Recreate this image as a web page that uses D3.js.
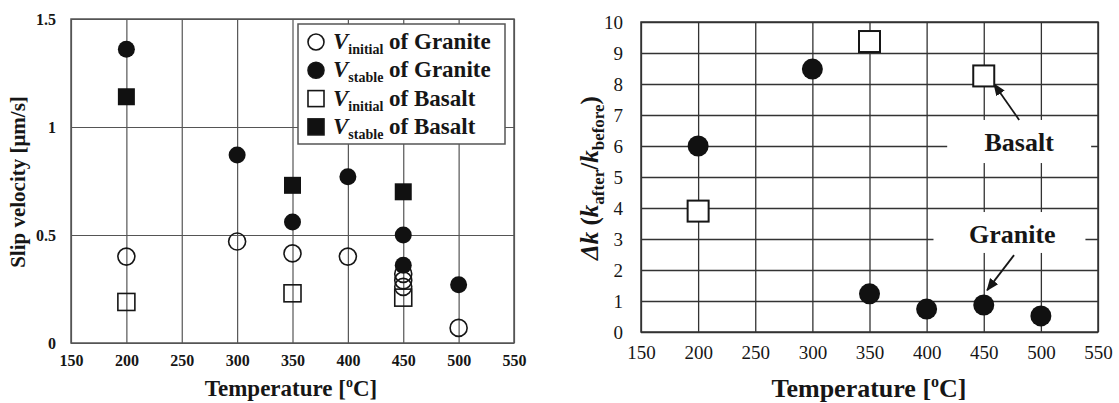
<!DOCTYPE html>
<html>
<head>
<meta charset="utf-8">
<script src="https://cdnjs.cloudflare.com/ajax/libs/d3/7.8.5/d3.min.js"></script>
<style>
  body { margin: 0; background: #fff; }
  svg text { font-family: "Liberation Serif", "Times New Roman", serif; }
</style>
</head>
<body>
<div id="chart"></div>
<script>
// ---- data ----
// left panel: slip velocity [um/s]
var initGraniteT = [200, 300, 350, 400, 450, 450, 450, 500];
var initGraniteV = [0.40, 0.47, 0.415, 0.40, 0.32, 0.29, 0.26, 0.07];
var stabGraniteT = [200, 300, 350, 400, 450, 450, 500];
var stabGraniteV = [1.36, 0.87, 0.56, 0.77, 0.50, 0.36, 0.27];
var initBasaltT = [200, 350, 450];
var initBasaltV = [0.19, 0.23, 0.21];
var stabBasaltT = [200, 350, 450];
var stabBasaltV = [1.14, 0.73, 0.70];

// right panel: permeability change
var dkGraniteT = [200, 300, 350, 400, 450, 500];
var dkGranite = [6.0, 8.48, 1.23, 0.74, 0.87, 0.52];
var dkBasaltT = [200, 350, 450];
var dkBasalt = [3.9, 9.37, 8.26];

var xTicks = [150, 200, 250, 300, 350, 400, 450, 500, 550];
var leftYTicks = [0, 0.5, 1, 1.5];
var rightYTicks = [0, 1, 2, 3, 4, 5, 6, 7, 8, 9, 10];

function pairs(xs, ys) { return xs.map(function(d, i) { return {t: d, v: ys[i]}; }); }

var svg = d3.select("#chart").append("svg")
    .attr("width", 1119).attr("height", 403)
    .style("font-family", "'Liberation Serif', serif");

var gridColor = "#555";
var ink = "#161616";
var serif = "'Liberation Serif', serif";

// ================= LEFT PANEL =================
var L = {left: 71, top: 19, width: 443, height: 324};
var gL = svg.append("g").attr("transform", "translate(" + L.left + "," + L.top + ")");

var xL = d3.scaleLinear().domain([150, 550]).range([0, L.width]);
var yL = d3.scaleLinear().domain([0, 1.5]).range([L.height, 0]);

// grid via axes
gL.append("g")
    .attr("transform", "translate(0," + L.height + ")")
    .call(d3.axisBottom(xL).tickValues(xTicks).tickSizeInner(-L.height).tickSizeOuter(0).tickPadding(12))
    .call(function(g) {
        g.attr("font-family", serif);
        g.select(".domain").remove();
        g.selectAll("line").attr("stroke", gridColor).attr("stroke-width", 1.2);
        g.selectAll("text").attr("font-size", 16).attr("font-weight", "bold").attr("fill", ink);
    });
gL.append("g")
    .call(d3.axisLeft(yL).tickValues(leftYTicks).tickFormat(function(d) { return d; })
        .tickSizeInner(-L.width).tickSizeOuter(0).tickPadding(15))
    .call(function(g) {
        g.attr("font-family", serif);
        g.select(".domain").remove();
        g.selectAll("line").attr("stroke", gridColor).attr("stroke-width", 1.2);
        g.selectAll("text").attr("font-size", 16).attr("font-weight", "bold").attr("fill", ink);
    });
gL.append("rect").attr("width", L.width).attr("height", L.height)
    .attr("fill", "none").attr("stroke", gridColor).attr("stroke-width", 1.5);

// markers
var rL = 8.5, sL = 17;
gL.selectAll(".ig").data(pairs(initGraniteT, initGraniteV)).enter().append("circle")
    .attr("cx", function(d) { return xL(d.t); }).attr("cy", function(d) { return yL(d.v); })
    .attr("r", rL).attr("fill", "none").attr("stroke", ink).attr("stroke-width", 1.6);
gL.selectAll(".ib").data(pairs(initBasaltT, initBasaltV)).enter().append("rect")
    .attr("x", function(d) { return xL(d.t) - sL / 2; }).attr("y", function(d) { return yL(d.v) - sL / 2; })
    .attr("width", sL).attr("height", sL).attr("fill", "none").attr("stroke", ink).attr("stroke-width", 1.6);
gL.selectAll(".sg").data(pairs(stabGraniteT, stabGraniteV)).enter().append("circle")
    .attr("cx", function(d) { return xL(d.t); }).attr("cy", function(d) { return yL(d.v); })
    .attr("r", rL).attr("fill", "#111");
gL.selectAll(".sb").data(pairs(stabBasaltT, stabBasaltV)).enter().append("rect")
    .attr("x", function(d) { return xL(d.t) - sL / 2; }).attr("y", function(d) { return yL(d.v) - sL / 2; })
    .attr("width", sL).attr("height", sL).attr("fill", "#111");

// legend
var legend = [
    {sub: "initial", rock: "Granite", shape: "circle", fill: false},
    {sub: "stable", rock: "Granite", shape: "circle", fill: true},
    {sub: "initial", rock: "Basalt", shape: "square", fill: false},
    {sub: "stable", rock: "Basalt", shape: "square", fill: true}
];
var lg = svg.append("g").attr("transform", "translate(298,24)");
lg.append("rect").attr("width", 207).attr("height", 120)
    .attr("fill", "#fff").attr("stroke", gridColor).attr("stroke-width", 1.5);
legend.forEach(function(d, i) {
    var cy = 18 + i * 28.3;
    if (d.shape === "circle") {
        lg.append("circle").attr("cx", 18).attr("cy", cy).attr("r", 8)
            .attr("fill", d.fill ? "#111" : "#fff").attr("stroke", ink).attr("stroke-width", 1.6);
    } else {
        lg.append("rect").attr("x", 10).attr("y", cy - 8).attr("width", 16).attr("height", 16)
            .attr("fill", d.fill ? "#111" : "#fff").attr("stroke", ink).attr("stroke-width", 1.6);
    }
    var t = lg.append("text").attr("x", 35).attr("y", cy + 7)
        .attr("font-size", 23).attr("font-weight", "bold").attr("fill", ink);
    t.append("tspan").attr("font-style", "italic").text("V");
    t.append("tspan").attr("font-size", 14).attr("dy", 5).text(d.sub);
    t.append("tspan").attr("dy", -5).text(" of " + d.rock);
});

// axis titles
svg.append("text").attr("transform", "translate(25," + (L.top + L.height / 2 + 1) + ") rotate(-90)")
    .attr("text-anchor", "middle").attr("font-size", 21).attr("font-weight", "bold").attr("fill", ink)
    .text("Slip velocity [μm/s]");
var xtL = svg.append("text").attr("x", 291).attr("y", 396)
    .attr("text-anchor", "middle").attr("font-size", 23).attr("font-weight", "bold").attr("fill", ink);
xtL.append("tspan").text("Temperature [");
xtL.append("tspan").attr("font-size", 14).attr("dy", -9).text("o");
xtL.append("tspan").attr("dy", 9).text("C]");

// ================= RIGHT PANEL =================
var R = {left: 641, top: 22, width: 457, height: 310};
var gR = svg.append("g").attr("transform", "translate(" + R.left + "," + R.top + ")");

var xR = d3.scaleLinear().domain([150, 550]).range([0, R.width]);
var yR = d3.scaleLinear().domain([0, 10]).range([R.height, 0]);

gR.append("g")
    .attr("transform", "translate(0," + R.height + ")")
    .call(d3.axisBottom(xR).tickValues(xTicks).tickSizeInner(-R.height).tickSizeOuter(0).tickPadding(14))
    .call(function(g) {
        g.attr("font-family", serif);
        g.select(".domain").remove();
        g.selectAll("line").attr("stroke", "#333").attr("stroke-width", 1.3);
        g.selectAll("text").attr("font-size", 19).attr("fill", ink);
    });
gR.append("g")
    .call(d3.axisLeft(yR).tickValues(rightYTicks).tickSizeInner(-R.width).tickSizeOuter(0).tickPadding(18))
    .call(function(g) {
        g.attr("font-family", serif);
        g.select(".domain").remove();
        g.selectAll("line").attr("stroke", "#333").attr("stroke-width", 1.3);
        g.selectAll("text").attr("font-size", 19).attr("fill", ink);
    });
gR.append("rect").attr("width", R.width).attr("height", R.height)
    .attr("fill", "none").attr("stroke", "#333").attr("stroke-width", 1.5);

// white label boxes that break the grid
gR.append("rect").attr("x", xR(418)).attr("y", yR(6.84)).attr("width", xR(544) - xR(418))
    .attr("height", yR(5.45) - yR(6.84)).attr("fill", "#fff");
gR.append("rect").attr("x", xR(406)).attr("y", yR(3.87)).attr("width", xR(539) - xR(406))
    .attr("height", yR(2.55) - yR(3.87)).attr("fill", "#fff");

gR.append("text").attr("x", xR(481)).attr("y", yR(5.84)).attr("text-anchor", "middle")
    .attr("font-size", 26).attr("font-weight", "bold").attr("fill", ink).text("Basalt");
gR.append("text").attr("x", xR(475)).attr("y", yR(2.87)).attr("text-anchor", "middle")
    .attr("font-size", 26).attr("font-weight", "bold").attr("fill", ink).text("Granite");

// arrows
svg.append("defs").append("marker").attr("id", "arr").attr("viewBox", "0 0 10 10")
    .attr("refX", 9).attr("refY", 5).attr("markerWidth", 7).attr("markerHeight", 7).attr("orient", "auto")
    .append("path").attr("d", "M0,1 L10,5 L0,9 Z").attr("fill", ink);
gR.append("line").attr("x1", xR(481)).attr("y1", yR(6.84)).attr("x2", xR(459)).attr("y2", yR(8.0))
    .attr("stroke", ink).attr("stroke-width", 1.8).attr("marker-end", "url(#arr)");
gR.append("line").attr("x1", xR(476.5)).attr("y1", yR(2.48)).attr("x2", xR(453)).attr("y2", yR(1.35))
    .attr("stroke", ink).attr("stroke-width", 1.8).attr("marker-end", "url(#arr)");

// markers
var rR = 10.5, sR = 21;
gR.selectAll(".gr").data(pairs(dkGraniteT, dkGranite)).enter().append("circle")
    .attr("cx", function(d) { return xR(d.t); }).attr("cy", function(d) { return yR(d.v); })
    .attr("r", rR).attr("fill", "#111");
gR.selectAll(".ba").data(pairs(dkBasaltT, dkBasalt)).enter().append("rect")
    .attr("x", function(d) { return xR(d.t) - sR / 2; }).attr("y", function(d) { return yR(d.v) - sR / 2; })
    .attr("width", sR).attr("height", sR).attr("fill", "#fff").attr("stroke", ink).attr("stroke-width", 2);

// axis titles
var ytR = svg.append("text").attr("transform", "translate(598,178) rotate(-90)")
    .attr("text-anchor", "middle").attr("font-size", 25).attr("font-weight", "bold").attr("fill", ink);
ytR.append("tspan").attr("font-style", "italic").text("Δk");
ytR.append("tspan").text(" (");
ytR.append("tspan").attr("font-style", "italic").text("k");
ytR.append("tspan").attr("font-size", 17).attr("dy", 6).text("after");
ytR.append("tspan").attr("dy", -6).text("/");
ytR.append("tspan").attr("font-style", "italic").text("k");
ytR.append("tspan").attr("font-size", 17).attr("dy", 6).text("before");
ytR.append("tspan").attr("dy", -6).text(")");

var xtR = svg.append("text").attr("x", 869).attr("y", 397)
    .attr("text-anchor", "middle").attr("font-size", 26).attr("font-weight", "bold").attr("fill", ink);
xtR.append("tspan").text("Temperature [");
xtR.append("tspan").attr("font-size", 16).attr("dy", -10).text("o");
xtR.append("tspan").attr("dy", 10).text("C]");
</script>
</body>
</html>
